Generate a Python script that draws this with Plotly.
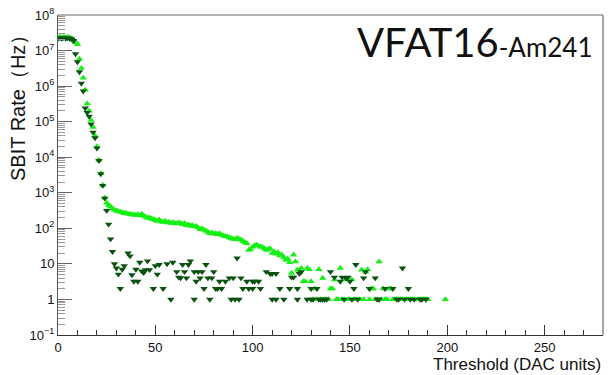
import plotly.graph_objects as go

# ---------------- data ----------------
green_x = [0, 1, 2, 3, 4, 5, 6, 7, 8, 9, 10, 11, 12, 13, 14, 15, 16, 17, 18, 19,
           20, 21, 22, 23, 24, 25, 26, 27, 28, 29, 30, 31, 32, 33, 34, 35, 36, 37, 38, 39,
           40, 41, 42, 43, 44, 45, 46, 47, 48, 49, 50, 51, 52, 53, 54, 55, 56, 57, 58, 59,
           60, 61, 62, 63, 64, 65, 66, 67, 68, 69, 70, 71, 72, 73, 74, 75, 76, 77, 78, 79,
           80, 81, 82, 83, 84, 85, 86, 87, 88, 89, 90, 91, 92, 93, 94, 95, 96, 97, 98, 99,
           100, 101, 102, 103, 104, 105, 106, 107, 108, 109, 110, 111, 112, 113, 114, 115, 116, 117, 118, 119,
           120, 121, 122, 123, 124, 125, 126, 127, 128, 129, 130, 131, 132, 133, 134, 135, 136, 137, 138, 139,
           140, 141, 142, 143, 144, 145, 146, 147, 148, 149, 150, 151, 152, 153, 154, 155, 156, 157, 158, 159,
           160, 161, 162, 163, 164, 165, 166, 167, 168, 169, 170, 171, 172, 173, 174, 175, 176, 177, 178, 179,
           180, 181, 182, 183, 185, 186, 187, 188, 189, 190, 199]
green_y = [2.3e7, 2.4e7, 2.3e7, 2.35e7, 2.3e7, 2.4e7, 2.3e7, 2.2e7, 2.0e7, 1.7e7, 1.5e7, 5.8e6, 3.2e6, 1.7e6, 7.8e5, 3.2e5, 2.0e5, 1.1e5, 7.0e4, 4.0e4,
           2.0e4, 8.3e3, 3.5e3, 1.65e3, 730, 520, 450, 410, 360, 330, 310, 300, 290, 280, 265, 270, 255, 250, 245, 240,
           235, 245, 230, 255, 225, 210, 195, 200, 185, 180, 170, 160, 175, 155, 150, 160, 145, 150, 140, 145,
           138, 135, 145, 138, 130, 140, 122, 128, 118, 120, 112, 115, 105, 94, 98, 90, 85, 80, 72, 75,
           70, 72, 68, 72, 65, 62, 59, 58, 55, 52, 50, 49, 53, 50, 48, 44, 40, 38, 24.5, 26,
           30, 33, 34, 32, 30, 30, 27, 24.5, 26, 27, 20, 22, 19, 21, 17, 18, 15, 13, 14, 11,
           5.5, 18, 11.5, 6.8, 6, 7.6, 3.2, 3.2, 7.6, 7, 3.2, 1, 2, 1, 7, 1, 4, 1, 1, 1,
           2, 2, 3.6, 1, 1, 7.6, 1, 1, 3.6, 1, 1, 3.6, 1, 1, 1, 1, 6.8, 1, 6, 7,
           1, 2, 2, 1, 1, 11.5, 1, 2, 1, 1, 2, 2, 1, 1, 1, 1, 1, 1, 1, 1,
           1, 1, 1, 1, 1, 1, 1, 1, 1, 1, 1]

dark_x = [0, 1, 2, 3, 4, 5, 6, 7, 8, 9, 10, 11, 12, 13, 14, 15, 16, 17, 18, 19,
          20, 21, 22, 23, 24, 25, 26, 27, 28, 29, 30, 31, 32, 33, 34, 36, 37, 38, 39, 40,
          41, 42, 43, 44, 45, 46, 47, 49, 50, 51, 52, 54, 56, 58, 59, 61, 62, 63, 64, 65,
          66, 67, 68, 70, 70, 71, 72, 73, 74, 75, 76, 77, 78, 79, 80, 81, 82, 83, 84, 86,
          88, 89, 90, 91, 92, 93, 94, 95, 97, 98, 100, 100, 101, 103, 104, 107, 109, 110, 110, 112,
          112, 114, 116, 119, 120, 121, 123, 123, 124, 125, 128, 130, 130, 131, 133, 134, 135, 136, 137, 138,
          140, 142, 145, 146, 147, 148, 149, 150, 151, 152, 153, 154, 157, 158, 160, 163, 164, 165, 168, 172,
          174, 175, 177, 178, 180, 181, 183, 186, 187, 189]
dark_y = [2.2e7, 2.25e7, 2.2e7, 2.3e7, 2.2e7, 2.25e7, 2.2e7, 2.1e7, 1.9e7, 8.0e6, 4.8e6, 2.5e6, 1.2e6, 7.2e5, 2.4e5, 1.8e5, 1.4e5, 8.5e4, 5.0e4, 3.5e4,
          1.8e4, 8.0e3, 3.4e3, 1.6e3, 700, 315, 130, 50, 22, 10, 7.6, 5.1, 2, 7, 8.8, 20, 16.6, 4.9, 3.2, 7,
          3.2, 11, 6.3, 5.6, 6.8, 12, 6.8, 2, 8.8, 5.1, 9.5, 2, 10, 1, 11, 6, 4.2, 4, 9.5, 6,
          4, 9.5, 12, 6, 1, 3.2, 6, 4, 6, 2, 9.5, 4, 1, 4, 6, 2, 2, 3.2, 2, 3.2,
          4, 1, 4, 1, 14.5, 1, 4, 2, 3.2, 2, 2, 3.2, 3.2, 3.2, 2, 6, 5.3, 5.3, 1, 5.3,
          1, 2, 1, 2, 4.2, 4.2, 2, 1, 5.3, 6, 1, 2, 1, 1, 2, 1, 1, 1, 1, 1,
          6, 4.2, 3.2, 4.2, 1, 4, 4.2, 3.2, 1, 2, 9.5, 1, 4, 6, 2, 4, 1, 1, 2, 2,
          1, 1, 7.6, 1, 2, 1, 1, 1, 1, 1]

y_tickvals = [1e-1, 1, 10, 1e2, 1e3, 1e4, 1e5, 1e6, 1e7, 1e8]
y_ticktext = ["10<sup>\u22121</sup>", "1", "10", "10<sup>2</sup>", "10<sup>3</sup>",
              "10<sup>4</sup>", "10<sup>5</sup>", "10<sup>6</sup>", "10<sup>7</sup>", "10<sup>8</sup>"]
x_tickvals = [0, 50, 100, 150, 200, 250]

# ---------------- figure ----------------
fig = go.Figure()
fig.add_trace(go.Scatter(x=green_x, y=green_y, mode="markers", name="Am241",
                         marker=dict(symbol="triangle-up", size=6.5, color="#14f014",
                                     line=dict(width=0))))
fig.add_trace(go.Scatter(x=dark_x, y=dark_y, mode="markers", name="no source",
                         marker=dict(symbol="triangle-down", size=6.5, color="#0a5210",
                                     line=dict(width=0))))

tickfont = dict(family="Liberation Sans, Arial, sans-serif", size=13, color="#111")

fig.update_layout(
    width=608, height=375,
    margin=dict(l=58, r=5, t=15, b=40),
    paper_bgcolor="white", plot_bgcolor="white",
    showlegend=False,
    xaxis=dict(range=[0, 280], showgrid=False, zeroline=False,
               showline=True, linecolor="#333", linewidth=1,
               tickvals=x_tickvals, ticks="inside", ticklen=10, tickcolor="#333",
               minor=dict(ticks="inside", ticklen=5, dtick=10, tickcolor="#333"),
               tickfont=tickfont),
    yaxis=dict(type="log", range=[-1, 8], showgrid=False, zeroline=False,
               showline=True, linecolor="#555", linewidth=1,
               tickvals=y_tickvals, ticktext=y_ticktext,
               ticks="inside", ticklen=14, tickcolor="#666",
               minor=dict(ticks="inside", ticklen=7, dtick="D1", tickcolor="#999"),
               tickfont=tickfont),
)

# frame top / right
fig.add_shape(type="line", xref="paper", yref="paper", x0=0, x1=1, y0=1, y1=1,
              line=dict(color="#999", width=1.5))
fig.add_shape(type="line", xref="paper", yref="paper", x0=1, x1=1, y0=0, y1=1,
              line=dict(color="#888", width=1.5))

# axis titles
fig.add_annotation(text="SBIT Rate\uff08Hz\uff09", textangle=-90, showarrow=False,
                   xref="paper", yref="paper", x=0, y=1, xanchor="right", yanchor="top",
                   xshift=-27, yshift=-8,
                   font=dict(family="Liberation Sans, Arial, sans-serif", size=20, color="#111"))
fig.add_annotation(text="Threshold (DAC units)", showarrow=False,
                   xref="paper", yref="paper", x=1, y=0, xanchor="right", yanchor="top",
                   xshift=0, yshift=-18,
                   font=dict(family="Liberation Sans, Arial, sans-serif", size=17, color="#111"))

# big label
fig.add_annotation(text="VFAT16<span style='font-size:26px'>-Am241</span>", showarrow=False,
                   xref="paper", yref="paper", x=0.985, y=0.915, xanchor="right", yanchor="middle",
                   font=dict(family="Lato, Open Sans, sans-serif", size=40, color="#111"))

fig.write_html("out.html")
